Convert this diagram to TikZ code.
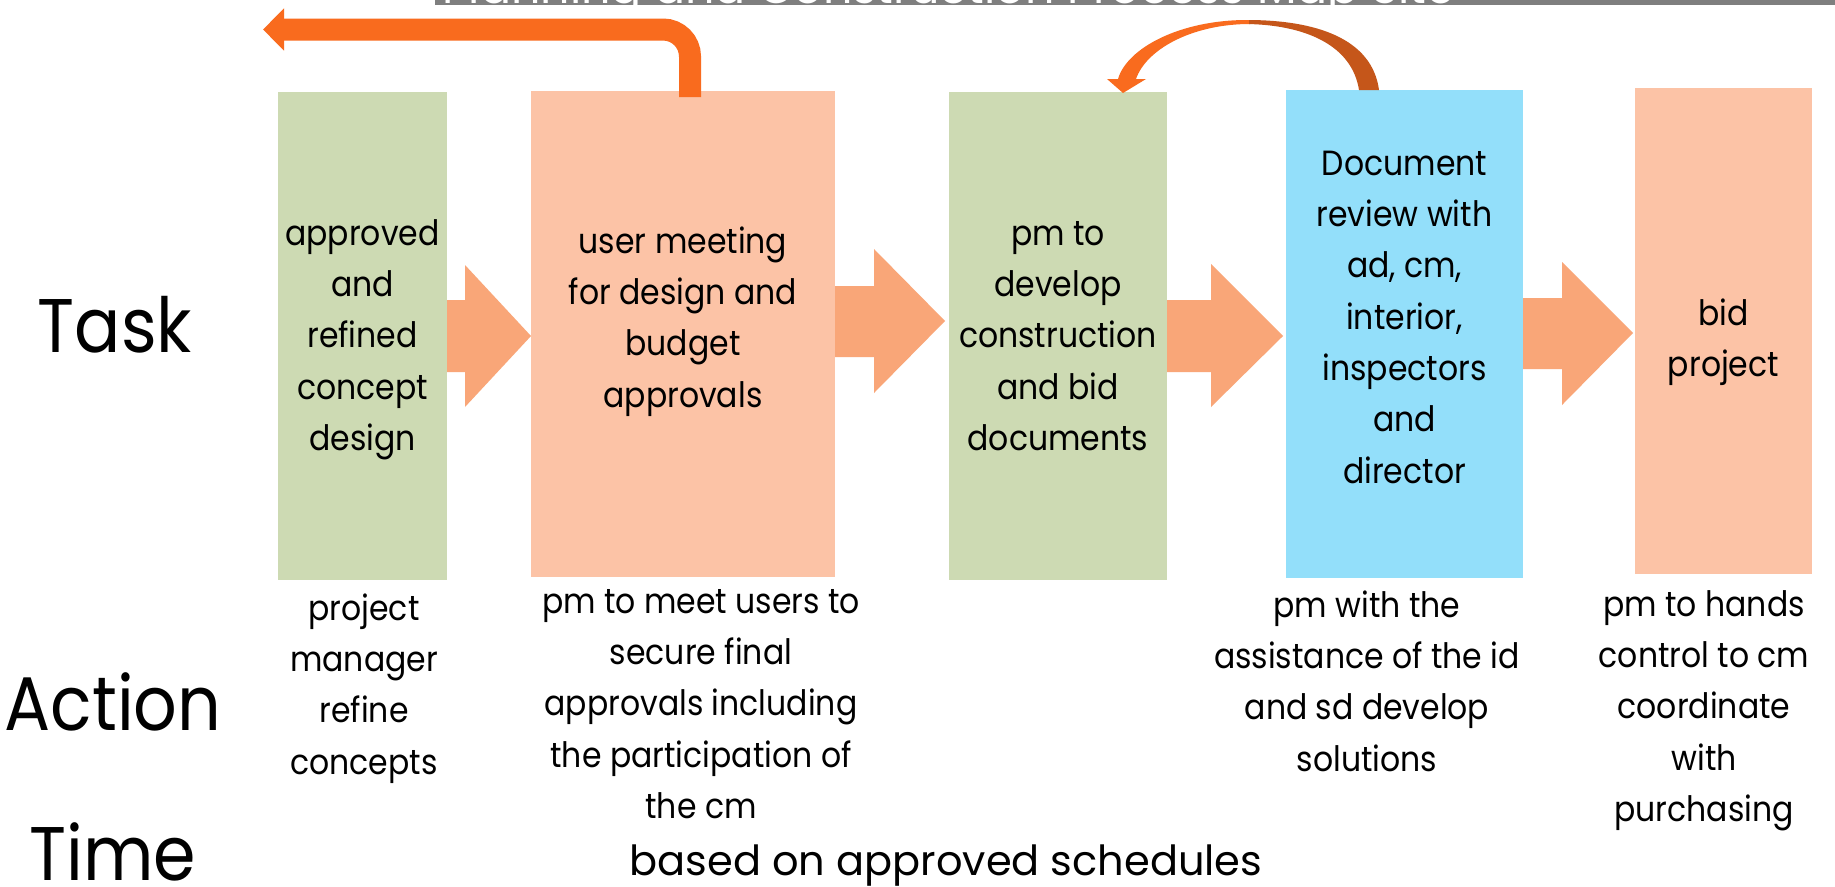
\documentclass[tikz,border=0pt]{standalone}
\usepackage{fontspec}
\setmainfont[FakeStretch=0.9]{Poppins}
\newfontfamily\plainpop{Poppins}
\usetikzlibrary{arrows.meta,calc}
\definecolor{boxg}{HTML}{CDDAB3}
\definecolor{boxp}{HTML}{FCC3A6}
\definecolor{boxb}{HTML}{93DFFA}
\definecolor{arrs}{HTML}{F9A678}
\definecolor{arro}{HTML}{F96B1E}
\definecolor{arrd}{HTML}{C5561A}
\definecolor{bandc}{HTML}{7F7F7F}
\begin{document}
\begin{tikzpicture}[x=1pt,y=-1pt,
  box/.style={draw=none,inner sep=0pt,outer sep=0pt},
  blk/.style={font=\fontsize{35}{51.3}\selectfont,align=center,inner sep=0pt,anchor=north,yshift=35.91pt},
  big/.style={font=\fontsize{76}{80}\selectfont,inner sep=0pt,anchor=base},
  elbow/.style={draw=arro,line width=22pt,rounded corners=27pt,-{Triangle[length=21pt,width=41pt]}}]
\useasboundingbox (0,0) rectangle (1835,886);
\fill[white] (0,0) rectangle (1835,886);
% title band (cut off)
\begin{scope}
\clip (435,0) rectangle (1835,5);
\fill[bandc] (435,0) rectangle (1835,5);
\node[anchor=base west,text=white,font=\plainpop\fontsize{46}{50}\selectfont,inner sep=0pt] (title) at (442,4) {Planning and Construction Process Map Site};
\end{scope}
% block arrows
\fill[arrs] (447,300) -- (465,300) -- (465,265) -- (531,336) -- (465,407) -- (465,372) -- (447,372) -- cycle;
\fill[arrs] (835,286) -- (874,286) -- (874,249) -- (945,321) -- (874,393) -- (874,357) -- (835,357) -- cycle;
\fill[arrs] (1167,300) -- (1211,300) -- (1211,264) -- (1283,336) -- (1211,407) -- (1211,372) -- (1167,372) -- cycle;
\fill[arrs] (1523,298) -- (1562,298) -- (1562,262) -- (1633,333) -- (1562,405) -- (1562,369) -- (1523,369) -- cycle;
% boxes
\node[box,fill=boxg,minimum width=169pt,minimum height=488pt] (b1) at (362.5,336) {};
\node[box,fill=boxp,minimum width=304pt,minimum height=486pt] (b2) at (683,334) {};
\node[box,fill=boxg,minimum width=218pt,minimum height=488pt] (b3) at (1058,336) {};
\node[box,fill=boxb,minimum width=237pt,minimum height=488pt] (b4) at (1404.5,334) {};
\node[box,fill=boxp,minimum width=177pt,minimum height=486pt] (b5) at (1723.5,331) {};
% elbow arrow
\coordinate (e1) at (690,97);
\coordinate (e2) at (263,29.5);
\draw[elbow] (e1) |- (e2);
% curved arrow
\def\curvepath{(1379,90) .. controls (1372,38) and (1315,20) .. (1247,20)
  .. controls (1180,20) and (1127,48) .. (1118,79) -- (1107,79) -- (1123,93) -- (1146,79) -- (1136,79)
  .. controls (1146,50) and (1190,25) .. (1247,24) .. controls (1305,25) and (1352,45) .. (1359,90) -- cycle}
\begin{scope}
\clip (1000,0) rectangle (1250,100);
\fill[arro] \curvepath;
\end{scope}
\begin{scope}
\clip (1249,0) rectangle (1400,100);
\fill[arrd] \curvepath;
\end{scope}
% texts in boxes
\node[blk] (t1) at (362.5,245) {\strut approved\\and\\refined\\concept\\design};
\node[blk] (t2) at (683,253) {\strut user meeting\\for design and\\budget\\approvals};
\node[blk] (t3) at (1058,245) {\strut pm to\\develop\\construction\\and bid\\documents};
\node[blk] (t4) at (1404.5,175) {\strut Document\\review with\\ad, cm,\\interior,\\inspectors\\and\\director};
\node[blk] (t5) at (1723.5,325) {\strut bid\\project};
% action texts
\node[blk] (a1) at (364,620) {\strut project\\manager\\refine\\concepts};
\node[blk] (a2) at (701,613) {\strut pm to meet users to\\secure final\\approvals including\\the participation of\\the cm};
\node[blk] (a4) at (1367,617) {\strut pm with the\\assistance of the id\\and sd develop\\solutions};
\node[blk] (a5) at (1704,616) {\strut pm to hands\\control to cm\\coordinate\\with\\purchasing};
% row labels
\node[big] (task) at (115,352) {Task};
\node[big] (action) at (113,730) {Action};
\node[big] (time) at (113,880) {Time};
\node[font=\plainpop\fontsize{41.5}{50}\selectfont,anchor=base,inner sep=0pt] (sched) at (946,875) {based on approved schedules};
\end{tikzpicture}
\end{document}
